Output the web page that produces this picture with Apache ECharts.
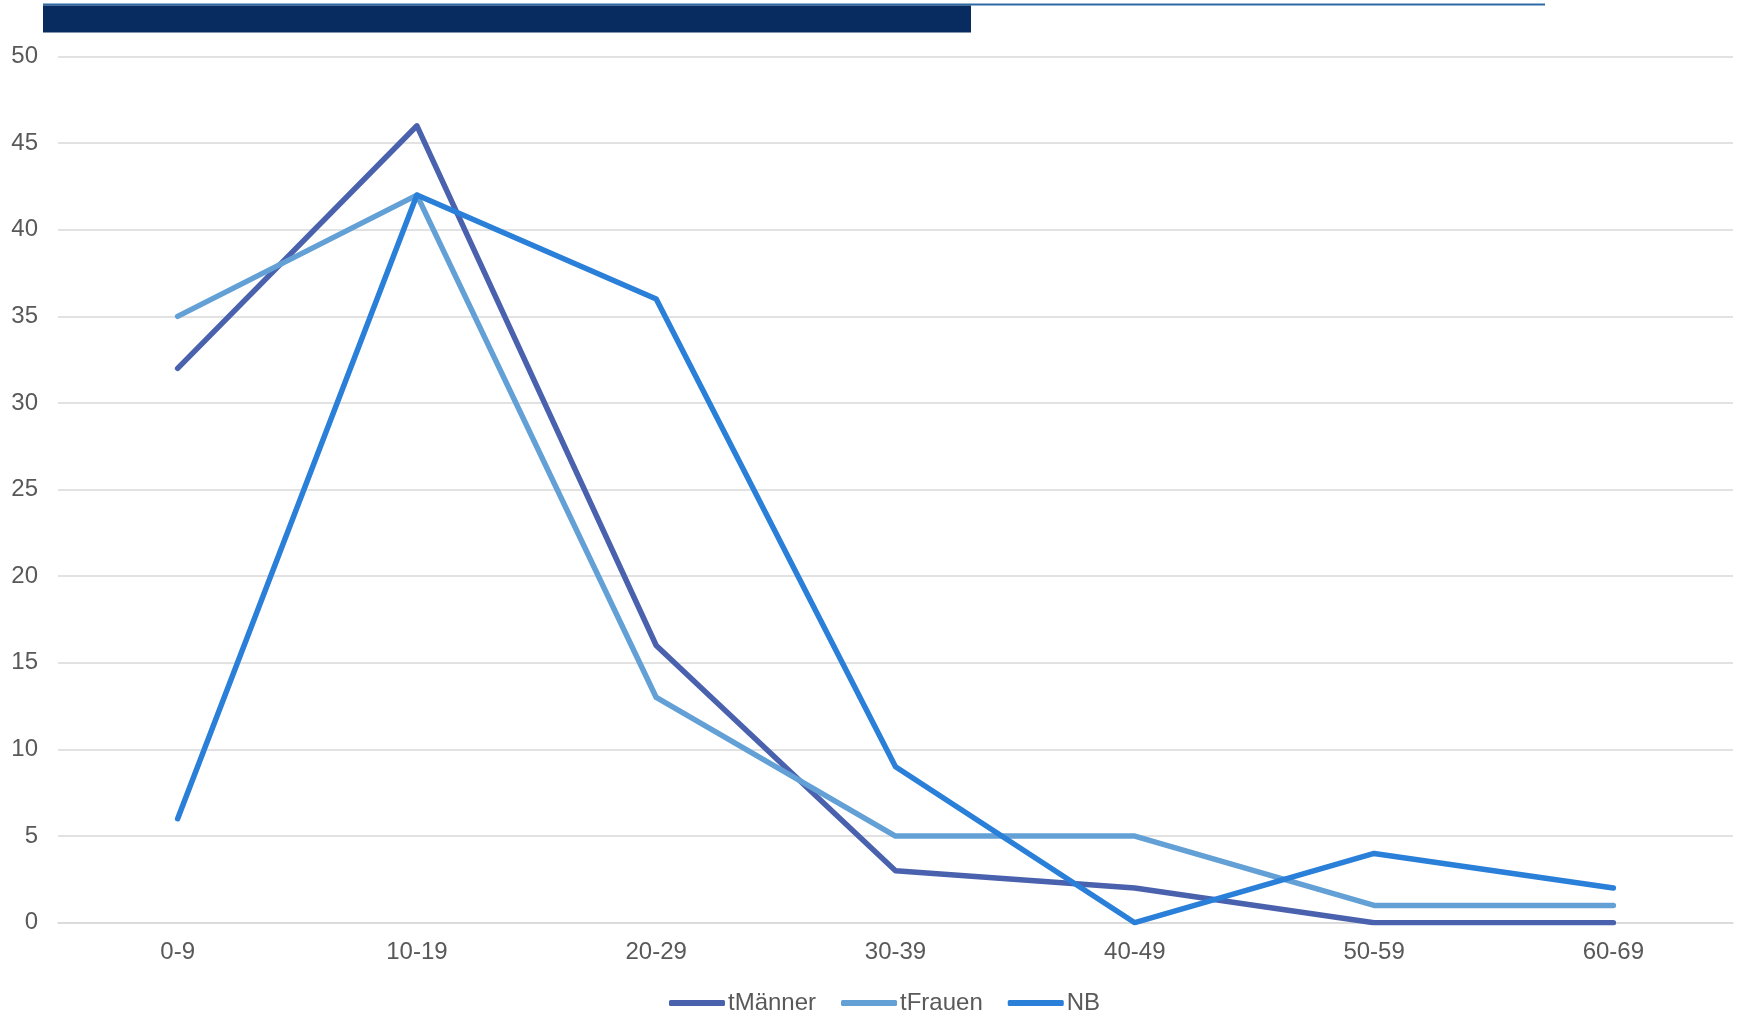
<!DOCTYPE html>
<html>
<head>
<meta charset="utf-8">
<style>
html,body{margin:0;padding:0;background:#fff;}
#chart{width:1739px;height:1016px;}
</style>
<script src="https://cdn.jsdelivr.net/npm/echarts@6/dist/echarts.min.js"></script>
</head>
<body>
<div id="chart"></div>
<script>
const categories = ['0-9','10-19','20-29','30-39','40-49','50-59','60-69'];
const maenner = [32, 46, 16, 3, 2, 0, 0];
const frauen = [35, 42, 13, 5, 5, 1, 1];
const nb = [6, 42, 36, 9, 0, 4, 2];
const seriesNames = ['tMänner','tFrauen','NB'];
const colors = ['#4A62AE','#62A0D6','#2A7FD8'];

const chart = echarts.init(document.getElementById('chart'));
const font = 'Liberation Sans, Arial, sans-serif';
function mk(name, data, color){
  return {
    name, type:'line', data, symbol:'none', smooth:false,
    lineStyle:{width:5.5, color, cap:'round', join:'round'},
    itemStyle:{color},
    animation:false
  };
}
chart.setOption({
  animation:false,
  grid:{left:58, right:6, top:56.5, bottom:93.3, containLabel:false},
  legend:{
    top:986, left:664,
    icon:'roundRect',
    itemWidth:56, itemHeight:6, itemGap:25,
    textStyle:{fontFamily:font, fontSize:24, color:'#595959', padding:[0,0,0,-2]},
    data:seriesNames
  },
  xAxis:{
    type:'category', data:categories, boundaryGap:true,
    axisLine:{show:true, lineStyle:{color:'#d9d9d9', width:1.5}},
    axisTick:{show:false},
    axisLabel:{fontFamily:font, fontSize:24, color:'#595959', margin:18}
  },
  yAxis:{
    type:'value', min:0, max:50, interval:5,
    axisLine:{show:false}, axisTick:{show:false},
    splitLine:{lineStyle:{color:'#d9d9d9', width:1.5}},
    axisLabel:{fontFamily:font, fontSize:24, color:'#595959', margin:20}
  },
  graphic:[
    {type:'rect', shape:{x:43, y:3.5, width:1502, height:2}, style:{fill:'#2d6aa3'}},
    {type:'rect', shape:{x:43, y:5.5, width:928, height:27}, style:{fill:'#082c5f'}}
  ],
  series:[mk(seriesNames[0], maenner, colors[0]), mk(seriesNames[1], frauen, colors[1]), mk(seriesNames[2], nb, colors[2])]
});
</script>
</body>
</html>
